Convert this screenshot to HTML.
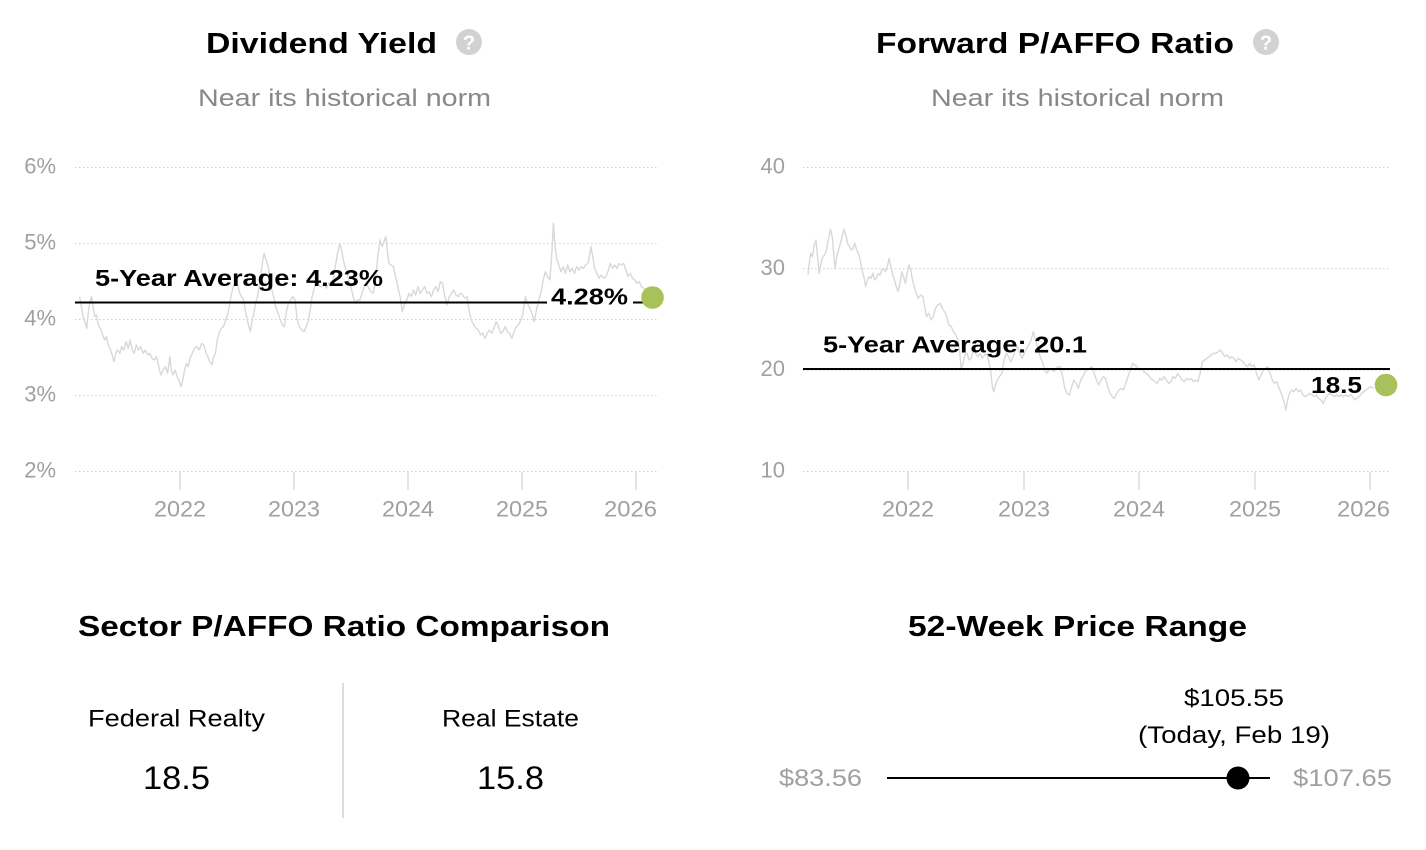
<!DOCTYPE html>
<html>
<head>
<meta charset="utf-8">
<style>
  html, body { margin:0; padding:0; background:#fff; }
  svg { display:block; }
  text { font-family: "Liberation Sans", Arial, sans-serif; }
</style>
</head>
<body>
<svg width="1426" height="850" viewBox="0 0 1426 850" xmlns="http://www.w3.org/2000/svg">
  <rect x="0" y="0" width="1426" height="850" fill="#fff"/>

  <!-- ===== LEFT HEADER ===== -->
  <text x="206" y="53" font-size="28.5" font-weight="bold" fill="#000" textLength="231" lengthAdjust="spacingAndGlyphs">Dividend Yield</text>
  <circle cx="469" cy="42" r="13" fill="#d2d2d2"/>
  <text x="469" y="49.5" font-size="20" font-weight="bold" fill="#fff" text-anchor="middle">?</text>
  <text x="198" y="106" font-size="24" fill="#888" textLength="293" lengthAdjust="spacingAndGlyphs">Near its historical norm</text>

  <!-- ===== RIGHT HEADER ===== -->
  <text x="876" y="53" font-size="28.5" font-weight="bold" fill="#000" textLength="358" lengthAdjust="spacingAndGlyphs">Forward P/AFFO Ratio</text>
  <circle cx="1266" cy="42" r="13" fill="#d2d2d2"/>
  <text x="1266" y="49.5" font-size="20" font-weight="bold" fill="#fff" text-anchor="middle">?</text>
  <text x="931" y="106" font-size="24" fill="#888" textLength="293" lengthAdjust="spacingAndGlyphs">Near its historical norm</text>

  <!-- ===== LEFT CHART ===== -->
  <g stroke="#cfcfcf" stroke-width="1" stroke-dasharray="1.5 2.5">
    <line x1="75" y1="167.5" x2="658" y2="167.5"/>
    <line x1="75" y1="243.5" x2="658" y2="243.5"/>
    <line x1="75" y1="319.5" x2="658" y2="319.5"/>
    <line x1="75" y1="395.5" x2="658" y2="395.5"/>
    <line x1="75" y1="471.5" x2="658" y2="471.5"/>
  </g>
  <g font-size="22" fill="#a0a0a0" text-anchor="end">
    <text x="56" y="173.5">6%</text>
    <text x="56" y="249.5">5%</text>
    <text x="56" y="325.5">4%</text>
    <text x="56" y="401.5">3%</text>
    <text x="56" y="477.5">2%</text>
  </g>
  <g stroke="#dcdcdc" stroke-width="1.5">
    <line x1="180" y1="472" x2="180" y2="490"/>
    <line x1="294" y1="472" x2="294" y2="490"/>
    <line x1="408" y1="472" x2="408" y2="490"/>
    <line x1="522" y1="472" x2="522" y2="490"/>
    <line x1="636" y1="472" x2="636" y2="490"/>
  </g>
  <g font-size="22" fill="#a0a0a0" text-anchor="middle">
    <text x="180" y="516.5" textLength="52" lengthAdjust="spacingAndGlyphs">2022</text>
    <text x="294" y="516.5" textLength="52" lengthAdjust="spacingAndGlyphs">2023</text>
    <text x="408" y="516.5" textLength="52" lengthAdjust="spacingAndGlyphs">2024</text>
    <text x="522" y="516.5" textLength="52" lengthAdjust="spacingAndGlyphs">2025</text>
    <text x="657" y="516.5" text-anchor="end" textLength="53" lengthAdjust="spacingAndGlyphs">2026</text>
  </g>

  <g transform="translate(0,140) scale(0.44703,0.33333)">
    <polyline fill="none" stroke="#d8d8d8" stroke-width="1.4" vector-effect="non-scaling-stroke" stroke-linejoin="round"
      points="178,470 182,500 186,530 190,545 194,565 198,510 202,480 205,470 208,500 212,530 216,525 220,555 226,570 230,585 234,600 238,590 242,615 246,625 250,640 255,665 259,640 263,630 268,640 272,620 277,630 282,605 287,625 291,600 296,630 300,640 305,615 310,630 315,620 320,640 325,630 330,645 335,640 340,655 345,660 350,650 355,680 360,705 365,690 370,680 375,700 380,650 383,690 387,705 392,690 396,710 400,720 405,740 409,720 413,690 417,670 421,680 425,655 430,640 435,625 440,620 446,630 451,610 456,615 461,640 465,650 469,665 474,675 478,650 482,640 486,600 490,580 495,565 500,560 505,540 510,520 514,490 518,460 522,440 526,430 530,420 535,455 540,470 545,480 550,520 555,550 560,575 564,540 568,520 572,490 576,470 580,440 584,400 588,360 591,340 595,360 600,380 604,420 608,450 612,470 617,500 622,520 627,540 632,555 636,560 640,520 645,490 650,480 655,470 660,480 665,540 670,560 675,570 680,575 685,560 690,540 694,510 698,470 702,450 706,430 710,420 715,440 720,440 725,430 730,445 735,430 740,430 745,420 750,380 755,340 760,310 764,330 768,360 772,380 776,400 780,420 785,440 790,470 795,490 800,480 805,480 810,460 815,440 820,430 825,445 830,455 835,460 840,420 845,350 850,300 855,320 860,300 863,290 867,340 870,370 875,375 880,380 885,410 890,440 895,470 900,515 905,490 910,480 915,460 920,470 925,450 930,465 935,440 940,460 945,450 950,440 955,460 960,455 965,470 970,450 975,440 980,455 985,425 990,430 995,470 1000,495 1005,470 1010,460 1015,450 1020,465 1025,470 1030,460 1035,465 1040,475 1045,470 1048,500 1052,530 1056,545 1060,555 1065,565 1070,570 1075,585 1080,580 1085,595 1090,580 1095,570 1100,580 1105,565 1110,545 1115,560 1120,580 1125,575 1130,560 1135,575 1140,580 1145,595 1150,575 1155,560 1160,555 1165,540 1170,520 1175,470 1180,490 1185,505 1190,520 1195,545 1200,510 1205,480 1210,460 1215,420 1220,395 1225,410 1230,420 1234,350 1238,250 1241,310 1245,355 1250,375 1255,395 1260,380 1265,400 1270,375 1275,395 1280,385 1285,400 1290,380 1295,390 1300,380 1305,385 1310,375 1315,370 1319,345 1322,320 1326,350 1330,385 1335,400 1340,415 1345,405 1350,415 1355,410 1360,395 1365,370 1370,385 1375,375 1380,385 1385,370 1390,375 1395,370 1400,390 1405,410 1410,400 1415,415 1420,420 1425,430 1430,425 1435,440 1440,445 1445,450"/>
  </g>

  <line x1="75" y1="302.5" x2="652" y2="302.5" stroke="#000" stroke-width="2"/>
  <rect x="547" y="285" width="86" height="22" fill="#fff"/>
  <text x="95" y="286" font-size="23" font-weight="bold" fill="#000" textLength="288" lengthAdjust="spacingAndGlyphs">5-Year Average: 4.23%</text>
  <text x="551" y="304.5" font-size="23" font-weight="bold" fill="#000" textLength="77" lengthAdjust="spacingAndGlyphs">4.28%</text>
  <circle cx="652.5" cy="297.5" r="11.3" fill="#a8c15a"/>

  <!-- ===== RIGHT CHART ===== -->
  <g stroke="#cfcfcf" stroke-width="1" stroke-dasharray="1.5 2.5">
    <line x1="803" y1="167.5" x2="1390" y2="167.5"/>
    <line x1="803" y1="268.8" x2="1390" y2="268.8"/>
    <line x1="803" y1="370.2" x2="1390" y2="370.2"/>
    <line x1="803" y1="471.5" x2="1390" y2="471.5"/>
  </g>
  <g font-size="22" fill="#a0a0a0" text-anchor="end">
    <text x="785" y="173.5">40</text>
    <text x="785" y="274.8">30</text>
    <text x="785" y="376">20</text>
    <text x="785" y="477.5">10</text>
  </g>
  <g stroke="#dcdcdc" stroke-width="1.5">
    <line x1="908" y1="472" x2="908" y2="490"/>
    <line x1="1024" y1="472" x2="1024" y2="490"/>
    <line x1="1139" y1="472" x2="1139" y2="490"/>
    <line x1="1255" y1="472" x2="1255" y2="490"/>
    <line x1="1370" y1="472" x2="1370" y2="490"/>
  </g>
  <g font-size="22" fill="#a0a0a0" text-anchor="middle">
    <text x="908" y="516.5" textLength="52" lengthAdjust="spacingAndGlyphs">2022</text>
    <text x="1024" y="516.5" textLength="52" lengthAdjust="spacingAndGlyphs">2023</text>
    <text x="1139" y="516.5" textLength="52" lengthAdjust="spacingAndGlyphs">2024</text>
    <text x="1255" y="516.5" textLength="52" lengthAdjust="spacingAndGlyphs">2025</text>
    <text x="1390" y="516.5" text-anchor="end" textLength="53" lengthAdjust="spacingAndGlyphs">2026</text>
  </g>

  <g transform="translate(720,140) scale(0.45086,0.33333)">
    <polyline fill="none" stroke="#d8d8d8" stroke-width="1.4" vector-effect="non-scaling-stroke" stroke-linejoin="round"
      points="195,405 198,370 201,340 205,350 209,315 213,300 217,360 220,400 224,370 228,350 232,345 236,330 240,300 245,268 249,290 252,340 255,385 259,350 263,330 267,310 271,290 275,268 279,285 283,310 287,320 291,330 295,325 299,310 303,330 307,340 311,360 315,390 319,410 323,440 327,420 331,410 335,415 339,400 343,420 347,415 351,400 355,405 359,390 363,385 367,395 371,380 375,355 379,380 383,405 387,420 391,440 395,455 399,430 403,395 407,410 411,430 415,400 419,375 423,390 427,420 431,440 435,460 440,475 445,465 450,470 454,500 458,530 463,520 468,540 473,530 478,505 483,495 488,490 493,505 498,515 503,530 508,555 513,560 518,575 523,585 528,600 532,640 535,690 539,670 543,645 548,640 552,660 557,655 562,630 567,640 572,650 577,640 582,655 587,645 592,640 597,670 601,700 604,740 607,755 611,735 615,720 620,710 625,700 630,660 635,640 640,650 645,665 650,650 655,630 660,620 665,640 670,655 675,640 680,625 685,615 690,600 695,575 700,600 705,625 710,650 715,665 720,690 725,700 730,690 735,685 740,695 745,685 750,680 755,680 760,710 765,745 770,760 775,765 780,740 785,720 790,730 795,745 800,720 805,710 810,695 815,690 820,685 825,680 830,700 835,720 840,735 845,720 850,710 855,715 860,740 865,760 870,770 875,775 880,760 885,750 890,745 895,750 900,730 905,710 910,690 915,670 920,675 925,680 930,690 935,685 940,695 945,700 950,705 955,715 960,720 965,725 970,730 975,715 980,720 985,710 990,720 995,730 1000,725 1005,710 1010,715 1015,700 1020,710 1025,720 1030,725 1035,715 1040,720 1045,715 1050,725 1055,720 1060,725 1065,700 1070,665 1075,660 1080,655 1085,650 1090,645 1095,640 1100,640 1105,635 1110,630 1115,640 1120,650 1125,645 1130,655 1135,650 1140,655 1145,665 1150,655 1155,660 1160,665 1165,675 1170,680 1175,670 1180,680 1185,675 1190,700 1195,720 1200,705 1205,690 1210,685 1215,680 1220,700 1225,720 1230,730 1235,725 1240,745 1245,760 1250,780 1255,810 1259,780 1263,760 1268,750 1273,755 1278,745 1283,755 1288,750 1293,765 1298,770 1303,765 1308,760 1313,765 1318,770 1323,765 1328,775 1333,780 1338,790 1343,775 1348,765 1353,760 1358,765 1363,770 1368,765 1373,770 1378,765 1383,770 1388,765 1393,770 1398,765 1403,770 1408,780 1413,775 1418,770 1423,760 1428,755 1433,750 1438,745 1443,740 1450,745"/>
  </g>

  <line x1="803" y1="369" x2="1390" y2="369" stroke="#000" stroke-width="2"/>
  <text x="823" y="352.5" font-size="23" font-weight="bold" fill="#000" textLength="264" lengthAdjust="spacingAndGlyphs">5-Year Average: 20.1</text>
  <text x="1311" y="393" font-size="23" font-weight="bold" fill="#000" textLength="51" lengthAdjust="spacingAndGlyphs">18.5</text>
  <circle cx="1386" cy="385" r="11.3" fill="#a8c15a"/>

  <!-- ===== BOTTOM LEFT ===== -->
  <text x="78" y="636" font-size="28.5" font-weight="bold" fill="#000" textLength="532" lengthAdjust="spacingAndGlyphs">Sector P/AFFO Ratio Comparison</text>
  <line x1="343" y1="683" x2="343" y2="818" stroke="#dcdcdc" stroke-width="2"/>
  <text x="88" y="726.5" font-size="24.5" fill="#000" textLength="177" lengthAdjust="spacingAndGlyphs">Federal Realty</text>
  <text x="442" y="726.5" font-size="24.5" fill="#000" textLength="137" lengthAdjust="spacingAndGlyphs">Real Estate</text>
  <text x="143" y="789" font-size="32" fill="#000" textLength="67" lengthAdjust="spacingAndGlyphs">18.5</text>
  <text x="477" y="789" font-size="32" fill="#000" textLength="67" lengthAdjust="spacingAndGlyphs">15.8</text>

  <!-- ===== BOTTOM RIGHT ===== -->
  <text x="908" y="636" font-size="28.5" font-weight="bold" fill="#000" textLength="339" lengthAdjust="spacingAndGlyphs">52-Week Price Range</text>
  <text x="1184" y="706" font-size="24.5" fill="#000" textLength="100" lengthAdjust="spacingAndGlyphs">$105.55</text>
  <text x="1138" y="743" font-size="24.5" fill="#000" textLength="192" lengthAdjust="spacingAndGlyphs">(Today, Feb 19)</text>
  <text x="779" y="786" font-size="24.5" fill="#a0a0a0" textLength="83" lengthAdjust="spacingAndGlyphs">$83.56</text>
  <text x="1293" y="786" font-size="24.5" fill="#a0a0a0" textLength="99" lengthAdjust="spacingAndGlyphs">$107.65</text>
  <line x1="887" y1="778" x2="1270" y2="778" stroke="#000" stroke-width="2"/>
  <circle cx="1238" cy="778" r="11.5" fill="#000"/>
</svg>
</body>
</html>
